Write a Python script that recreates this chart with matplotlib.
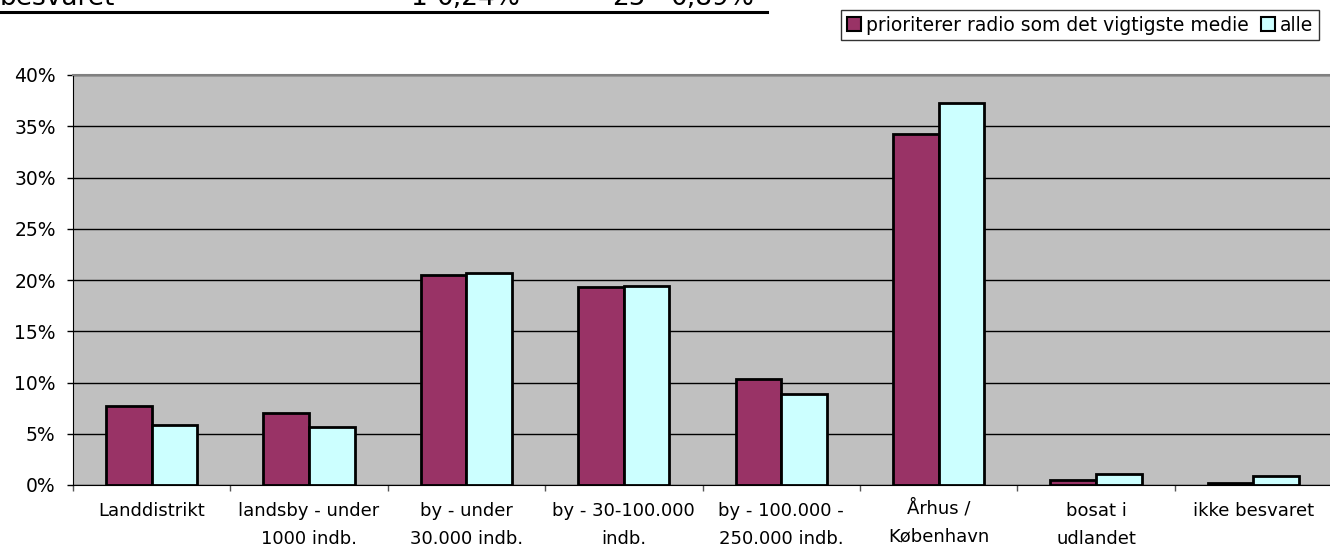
import numpy as np
import matplotlib
matplotlib.use('Agg')
import matplotlib.pyplot as plt
from matplotlib.patches import Patch
from matplotlib.ticker import MultipleLocator, FixedLocator, PercentFormatter

# data (in %)
categories = ["Landdistrikt", "landsby - under\n1000 indb.", "by - under\n30.000 indb.",
              "by - 30-100.000\nindb.", "by - 100.000 -\n250.000 indb.", "Århus /\nKøbenhavn",
              "bosat i\nudlandet", "ikke besvaret"]
radio = [7.7, 7.0, 20.5, 19.3, 10.3, 34.2, 0.46, 0.24]
alle = [5.85, 5.66, 20.7, 19.4, 8.9, 37.3, 1.04, 0.89]
series_names = ["prioriterer radio som det vigtigste medie", "alle"]

# cut-off table row above the chart
header_row = ["besvaret", "1", "0,24%", "25", "0,89%"]

PURPLE = "#993366"
CYAN = "#CCFFFF"
BG = "#C0C0C0"

plt.rcParams['font.family'] = ['DejaVu Sans']
W, H = 1330, 555
fig = plt.figure(figsize=(W / 100, H / 100), dpi=100)

# axes: px coords 73..1332 x 75..485 (right edge is cut off in the original)
ax = fig.add_axes([73 / W, 1 - 485 / H, (1332 - 73) / W, (485 - 75) / H])
ax.set_facecolor(BG)

n = len(categories)
x = np.arange(n)
bw = 0.29
ax.bar(x - bw / 2, radio, bw, color=PURPLE, edgecolor='black', linewidth=2, zorder=3)
ax.bar(x + bw / 2, alle, bw, color=CYAN, edgecolor='black', linewidth=2, zorder=3)

ax.set_xlim(-0.5, n - 0.5)
ax.set_ylim(0, 40)
ax.yaxis.set_major_locator(MultipleLocator(5))
ax.yaxis.set_major_formatter(PercentFormatter(decimals=0))
ax.grid(axis='y', color='black', linewidth=1, zorder=1)

# boundaries as major ticks, labels on minor ticks at the centres
ax.xaxis.set_major_locator(FixedLocator(np.arange(n + 1) - 0.5))
ax.xaxis.set_minor_locator(FixedLocator(x))
ax.set_xticklabels([], minor=False)
ax.set_xticklabels(categories, minor=True, fontsize=13)
ax.tick_params(axis='x', which='major', length=4.5, color='#555555', width=1)
ax.tick_params(axis='x', which='minor', length=0, pad=12)
ax.tick_params(axis='y', length=4.5, width=1, labelsize=13.5, pad=8)
for lab in ax.get_xticklabels(minor=True):
    lab.set_linespacing(1.72)
# the ring on Å makes that label sit lower, pull it back up
for t, lab in zip(ax.xaxis.get_minor_ticks(), categories):
    if lab.startswith("Å"):
        t.set_pad(10.2)

for side in ['top', 'right']:
    ax.spines[side].set_color('#808080')
    ax.spines[side].set_linewidth(1.5)
ax.spines['left'].set_color('black')
ax.spines['bottom'].set_color('black')
ax.spines['bottom'].set_zorder(4)

# legend
handles = [Patch(facecolor=PURPLE, edgecolor='black', linewidth=1.5),
           Patch(facecolor=CYAN, edgecolor='black', linewidth=1.5)]
leg = fig.legend(handles, series_names, loc='upper right',
                 bbox_to_anchor=(1319 / W, 1 - 10 / H), ncol=2, fontsize=13.5,
                 frameon=True, fancybox=False, handlelength=0.75, handleheight=0.75,
                 handletextpad=0.25, columnspacing=0.7, borderpad=0.3,
                 borderaxespad=0)
leg.get_frame().set_edgecolor('black')
leg.get_frame().set_linewidth(1)

# cropped table row at the very top
hx = [0, 427, 520, 646, 754]
ha = ['left', 'right', 'right', 'right', 'right']
for s, xp, a in zip(header_row, hx, ha):
    fig.text(xp / W, 1 - 5 / H, s, ha=a, va='baseline', fontsize=19)
fig.add_artist(plt.Line2D([0, 767 / W], [1 - 12 / H, 1 - 12 / H], color='black', linewidth=2.2))

fig.savefig("out.png", dpi=100, facecolor='white')
